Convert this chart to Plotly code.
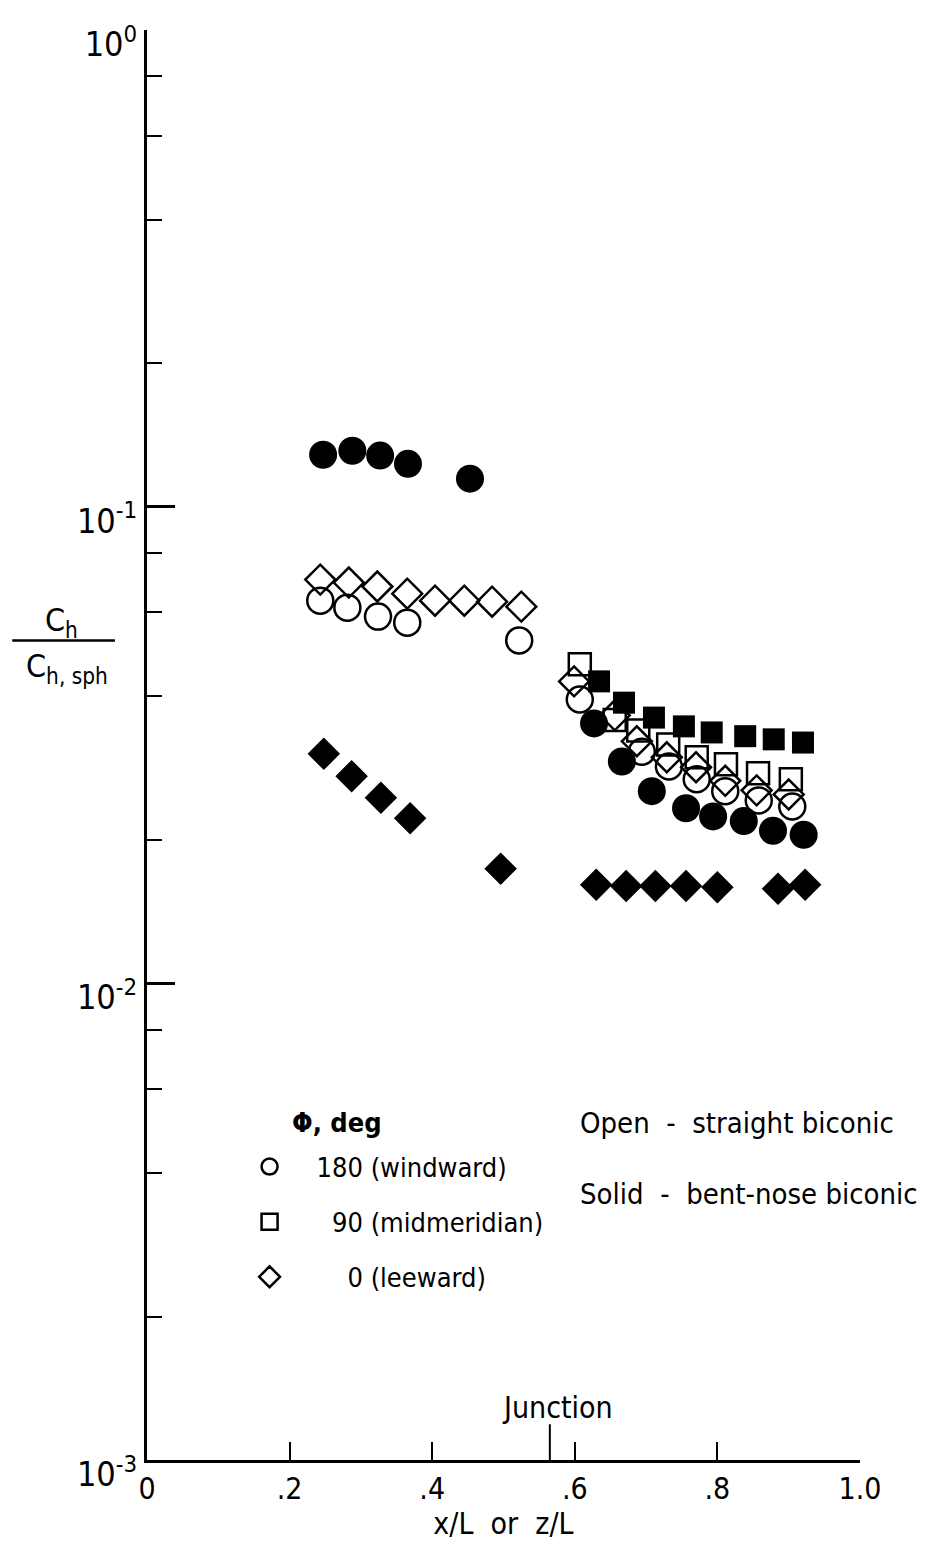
import plotly.graph_objects as go

# ---- data ----
# Solid symbols: bent-nose biconic
x_bent_180 = [0.247, 0.288, 0.327, 0.366, 0.453, 0.627, 0.666, 0.708, 0.756, 0.794, 0.837, 0.878, 0.921]
y_bent_180 = [0.1285, 0.131, 0.128, 0.123, 0.1145, 0.0351, 0.0292, 0.0253, 0.0233, 0.0224, 0.0219, 0.0209, 0.0205]

x_bent_90 = [0.634, 0.669, 0.711, 0.753, 0.792, 0.839, 0.879, 0.920]
y_bent_90 = [0.0430, 0.0388, 0.0361, 0.0346, 0.0336, 0.0330, 0.0325, 0.0320]

x_bent_0 = [0.248, 0.287, 0.328, 0.369, 0.496, 0.630, 0.672, 0.713, 0.756, 0.800, 0.885, 0.923]
y_bent_0 = [0.0303, 0.0272, 0.0245, 0.0222, 0.0174, 0.0161, 0.0160, 0.0160, 0.0160, 0.0159, 0.0158, 0.0161]

# Open symbols: straight biconic
x_str_180 = [0.243, 0.281, 0.324, 0.365, 0.522, 0.607, 0.694, 0.732, 0.771, 0.811, 0.858, 0.905]
y_str_180 = [0.0635, 0.0614, 0.0588, 0.0571, 0.0524, 0.0394, 0.0306, 0.0285, 0.0268, 0.0253, 0.0242, 0.0235]

x_str_90 = [0.607, 0.656, 0.689, 0.731, 0.771, 0.812, 0.857, 0.903]
y_str_90 = [0.0467, 0.0357, 0.0339, 0.0317, 0.0298, 0.0288, 0.0276, 0.0268]

x_str_0 = [0.243, 0.283, 0.323, 0.365, 0.404, 0.445, 0.484, 0.525, 0.599, 0.656, 0.687, 0.729, 0.770, 0.811, 0.855, 0.900]
y_str_0 = [0.0703, 0.0693, 0.0680, 0.0657, 0.0635, 0.0635, 0.0632, 0.0617, 0.0430, 0.0365, 0.0322, 0.0298, 0.0284, 0.0266, 0.0254, 0.0249]

legend_names = ["180 (windward)", "\u200790 (midmeridian)", "\u2007\u20070 (leeward)"]

x_tickvals = [0, 0.2, 0.4, 0.6, 0.8, 1.0]
x_ticktext = ["0", ".2", ".4", ".6", ".8", "1.0"]
y_tickvals = [0.001, 0.01, 0.1, 1]
y_ticktext = ["10<sup>-3</sup>", "10<sup>-2</sup>", "10<sup>-1</sup>", "10<sup>0</sup>"]
y_minorvals = [m * d for d in (0.001, 0.01, 0.1) for m in (2, 4, 6, 8)]
junction_x = 0.565

FONT = "DejaVu Sans Condensed, Liberation Sans Narrow, DejaVu Sans, sans-serif"
BLACK = "black"
NB = "\u00a0"

fig = go.Figure()

# open (straight biconic) – these carry the legend
open_series = [
    (x_str_180, y_str_180, "circle-open", 26, legend_names[0]),
    (x_str_90, y_str_90, "square-open", 22, legend_names[1]),
    (x_str_0, y_str_0, "diamond-open", 23, legend_names[2]),
]
for i, (xs, ys, sym, sz, name) in enumerate(open_series):
    fig.add_trace(go.Scatter(
        x=xs, y=ys, mode="markers", name=name, legendgroup=f"g{i}",
        marker=dict(symbol=sym, size=sz, color=BLACK, line=dict(width=2.5, color=BLACK)),
        cliponaxis=False, showlegend=True,
    ))

solid_series = [
    (x_bent_180, y_bent_180, "circle", 28),
    (x_bent_90, y_bent_90, "square", 22),
    (x_bent_0, y_bent_0, "diamond", 25),
]
for xs, ys, sym, sz in solid_series:
    fig.add_trace(go.Scatter(
        x=xs, y=ys, mode="markers", showlegend=False,
        marker=dict(symbol=sym, size=sz, color=BLACK, line=dict(width=0)),
        cliponaxis=False,
    ))

fig.update_layout(
    width=933, height=1542,
    margin=dict(l=139, r=81, t=22, b=90),
    paper_bgcolor="white", plot_bgcolor="white",
    font=dict(family=FONT, size=27, color=BLACK),
    showlegend=True,
    legend=dict(
        x=0.106, y=0.222, xanchor="left", yanchor="top",
        bgcolor="rgba(0,0,0,0)", borderwidth=0,
        itemwidth=84, tracegroupgap=17, traceorder="grouped",
        font=dict(family=FONT, size=27, color=BLACK),
        itemclick=False, itemdoubleclick=False,
    ),
    xaxis=dict(
        range=[0, 1], showgrid=False, zeroline=False,
        showline=True, linecolor=BLACK, linewidth=2.5,
        ticks="inside", ticklen=18, tickwidth=2, tickcolor=BLACK,
        tickmode="array", tickvals=x_tickvals, ticktext=x_ticktext,
        tickfont=dict(family=FONT, size=30),
        title=dict(text=f"x/L{NB}{NB}or{NB}{NB}z/L", font=dict(family=FONT, size=30), standoff=0),
    ),
    yaxis=dict(
        type="log", range=[-3, 0], showgrid=False, zeroline=False,
        showline=True, linecolor=BLACK, linewidth=3,
        ticks="inside", ticklen=28, tickwidth=2.5, tickcolor=BLACK,
        tickmode="array", tickvals=y_tickvals, ticktext=y_ticktext,
        tickfont=dict(family=FONT, size=34),
        ticklabelshift=14,
        minor=dict(tickmode="array", tickvals=y_minorvals, ticks="inside",
                   ticklen=15, tickwidth=2, tickcolor=BLACK, showgrid=False),
    ),
)

# y-axis title as a fraction
fig.add_annotation(xref="paper", yref="paper", x=-0.120, y=0.586, text="C<sub>h</sub>",
                   showarrow=False, font=dict(family=FONT, size=32), xanchor="center", yanchor="middle")
fig.add_shape(type="line", xref="paper", yref="paper", x0=-0.189, x1=-0.045, y0=0.573, y1=0.573,
              line=dict(color=BLACK, width=2.5))
fig.add_annotation(xref="paper", yref="paper", x=-0.112, y=0.554, text="C<sub>h, sph</sub>",
                   showarrow=False, font=dict(family=FONT, size=32), xanchor="center", yanchor="middle")

# Junction marker
fig.add_shape(type="line", xref="x", yref="paper", x0=junction_x, x1=junction_x, y0=0, y1=0.025,
              line=dict(color=BLACK, width=2))
fig.add_annotation(xref="paper", yref="paper", x=0.576, y=0.037, text="Junction", showarrow=False,
                   font=dict(family=FONT, size=30), xanchor="center", yanchor="middle")

# legend title and notes
fig.add_annotation(xref="paper", yref="paper", x=0.200, y=0.236, text="<b>\u03a6, deg</b>", showarrow=False,
                   font=dict(family=FONT, size=27), xanchor="left", yanchor="middle")
fig.add_annotation(xref="paper", yref="paper", x=0.605, y=0.236, text=f"Open{NB}{NB}-{NB}{NB}straight biconic",
                   showarrow=False, font=dict(family=FONT, size=29), xanchor="left", yanchor="middle")
fig.add_annotation(xref="paper", yref="paper", x=0.605, y=0.186, text=f"Solid{NB}{NB}-{NB}{NB}bent-nose biconic",
                   showarrow=False, font=dict(family=FONT, size=29), xanchor="left", yanchor="middle")

fig.write_html("out.html")
